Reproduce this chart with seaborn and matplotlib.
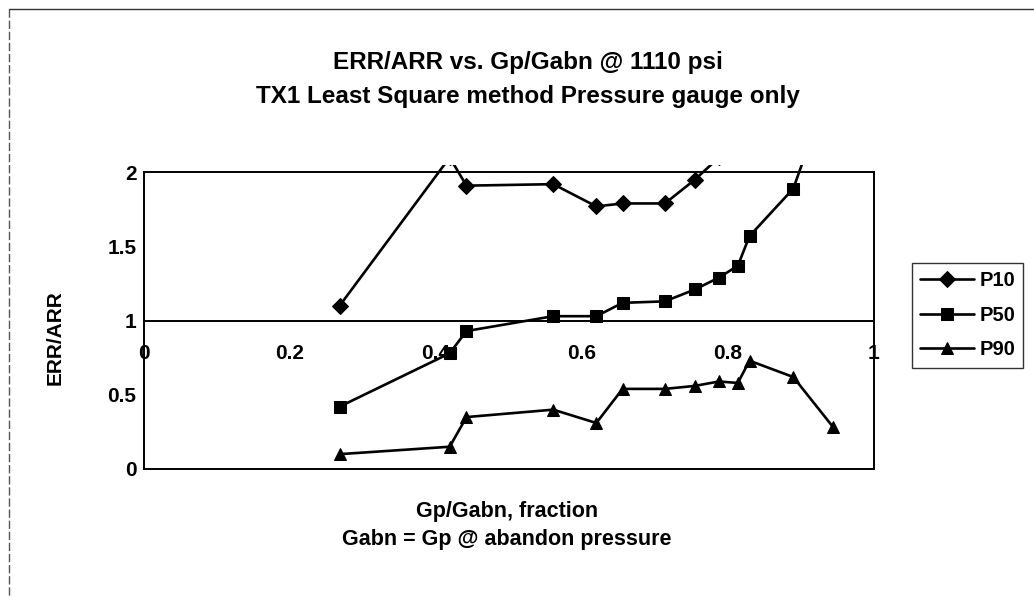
import numpy as np
import pandas as pd
import matplotlib
matplotlib.use('Agg')
import matplotlib.pyplot as plt
from matplotlib.patches import Rectangle
from matplotlib.lines import Line2D
import seaborn as sns

# data (values above 2 are off-scale, clipped like the original)
x_p10 = [0.268, 0.419, 0.442, 0.561, 0.620, 0.656, 0.714, 0.755, 0.788]
p10 = [1.10, 2.10, 1.91, 1.92, 1.77, 1.79, 1.79, 1.95, 2.10]

x_p50 = [0.268, 0.419, 0.442, 0.561, 0.620, 0.656, 0.714, 0.755, 0.788, 0.814, 0.830, 0.890, 0.945]
p50 = [0.42, 0.78, 0.93, 1.03, 1.03, 1.12, 1.13, 1.21, 1.29, 1.37, 1.57, 1.89, 2.65]

x_p90 = [0.268, 0.419, 0.442, 0.561, 0.620, 0.656, 0.714, 0.755, 0.788, 0.814, 0.830, 0.890, 0.945]
p90 = [0.10, 0.15, 0.35, 0.40, 0.31, 0.54, 0.54, 0.56, 0.59, 0.58, 0.73, 0.62, 0.28]

x_ticks = [0, 0.2, 0.4, 0.6, 0.8, 1]
x_ticklabels = ['0', '0.2', '0.4', '0.6', '0.8', '1']
y_ticks = [0, 0.5, 1, 1.5, 2]
y_ticklabels = ['0', '0.5', '1', '1.5', '2']

sns.set_style('white')
plt.rcParams['font.family'] = ['Liberation Sans', 'DejaVu Sans']
plt.rcParams['font.weight'] = 'bold'
plt.rcParams['text.color'] = 'black'
plt.rcParams['axes.labelcolor'] = 'black'

fig = plt.figure(figsize=(10.34, 5.96), dpi=100)
ax = fig.add_axes([0.1393, 0.2131, 0.7055, 0.4978])

series = [('P10', x_p10, p10, 'D', 8.5), ('P50', x_p50, p50, 's', 8.5), ('P90', x_p90, p90, '^', 9)]
for name, xs, ys, mk, ms in series:
    sns.lineplot(x=xs, y=ys, ax=ax, color='black', marker=mk, markersize=ms,
                 markeredgecolor='black', lw=1.9, label=name, sort=False)

ax.set_xlim(0, 1)
ax.set_ylim(0, 2)

# clip lines a little above the top of the plot box, like the original
clip = Rectangle((0, 0), 1, 2.05, transform=ax.transData)
for ln in ax.lines:
    ln.set_clip_path(clip)

# x axis crosses at y = 1
ax.spines['bottom'].set_position(('data', 1))
ax.axhline(0, color='black', lw=1.4, clip_on=False, zorder=1)
for s in ax.spines.values():
    s.set_color('black')
    s.set_linewidth(1.4)
    s.set_visible(True)

ax.set_xticks(x_ticks)
ax.set_xticklabels(x_ticklabels)
ax.set_yticks(y_ticks)
ax.set_yticklabels(y_ticklabels)
ax.tick_params(axis='x', direction='inout', length=8, width=1.2, pad=13, labelsize=15, colors='black')
ax.tick_params(axis='y', direction='inout', length=8, width=1.2, pad=1.5, labelsize=15, colors='black')
ax.set_xlabel('')
ax.set_ylabel('')

fig.text(0.511, 1 - 63 / 596, 'ERR/ARR vs. Gp/Gabn @ 1110 psi', ha='center', va='center',
         fontsize=17.5, fontweight='bold')
fig.text(0.511, 1 - 97 / 596, 'TX1 Least Square method Pressure gauge only', ha='center', va='center',
         fontsize=17.5, fontweight='bold')
fig.text(0.490, 1 - 512 / 596, 'Gp/Gabn, fraction', ha='center', va='center', fontsize=15.5, fontweight='bold')
fig.text(0.490, 1 - 540 / 596, 'Gabn = Gp @ abandon pressure', ha='center', va='center', fontsize=15.5,
         fontweight='bold')
fig.text(55 / 1034, 1 - 338 / 596, 'ERR/ARR', rotation=90, ha='center', va='center', fontsize=15,
         fontweight='bold')

leg = ax.legend(loc='upper left', bbox_to_anchor=(912 / 1034, 1 - 263 / 596), bbox_transform=fig.transFigure,
                frameon=True, fancybox=False, shadow=False, fontsize=14.5, handlelength=2.7,
                handletextpad=0.25, labelspacing=0.78, borderpad=0.4, borderaxespad=0)
leg.get_frame().set_edgecolor('black')
leg.get_frame().set_linewidth(1.0)

# outer chart border (top and left edge only visible)
fig.add_artist(Line2D([9 / 1034, 1.0], [1 - 9 / 596, 1 - 9 / 596], transform=fig.transFigure,
                      color='#333333', lw=1.0))
fig.add_artist(Line2D([9 / 1034, 9 / 1034], [1 - 9 / 596, 0], transform=fig.transFigure,
                      color='#555555', lw=1.0, ls=(0, (6, 2))))

fig.savefig('out.png', dpi=100, facecolor='white')
